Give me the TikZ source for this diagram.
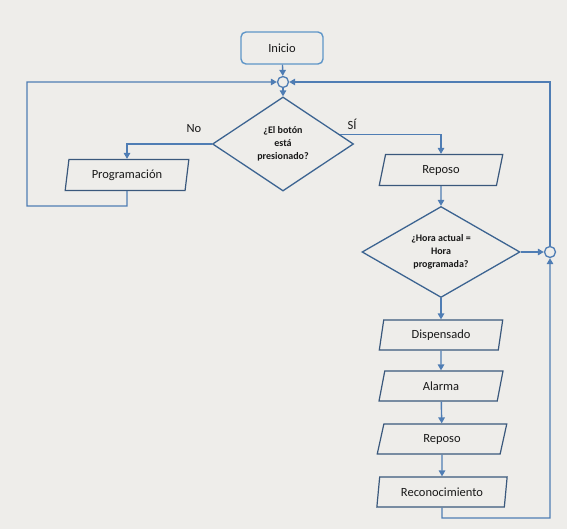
\documentclass[tikz,border=0pt]{standalone}
\usepackage{fontspec}
\setmainfont{Carlito}
\usetikzlibrary{shapes.geometric,arrows.meta,calc}
\definecolor{bg}{RGB}{238,237,234}
\definecolor{conncol}{RGB}{79,125,180}
\definecolor{shapecol}{RGB}{58,88,124}
\definecolor{deccol}{RGB}{60,100,145}
\definecolor{inicol}{RGB}{95,150,200}
\definecolor{txt}{RGB}{25,25,25}
\begin{document}
\begin{tikzpicture}[x=1pt,y=-1pt,
  io/.style={trapezium, trapezium left angle=78, trapezium right angle=102,
    trapezium stretches=true, draw=shapecol, line width=1.2pt,
    minimum width=124pt, minimum height=31pt, inner sep=0pt,
    font=\fontsize{12.5}{14}\selectfont, text=txt},
  dec/.style={diamond, draw=deccol, line width=1.3pt, inner sep=0pt,
    font=\bfseries\fontsize{10}{13}\selectfont, align=center, text=txt},
  startbox/.style={rectangle, rounded corners=5pt, draw=inicol, line width=1.4pt,
    minimum width=82pt, minimum height=32pt, inner sep=0pt,
    font=\fontsize{12.5}{14}\selectfont, text=txt},
  joint/.style={circle, draw=conncol, line width=1.3pt, minimum size=11pt, inner sep=0pt},
  conn/.style={draw=conncol, line width=1.4pt, -{Triangle[length=6pt,width=6.5pt]}},
  lbl/.style={font=\fontsize{12.5}{14}\selectfont, text=txt}
]
\fill[bg] (0,0) rectangle (567,529);
\useasboundingbox (0,0) rectangle (567,529);

\node[startbox] (ini) at (282,48) {Inicio};
\node[joint] (c1) at (283,82) {};
\node[dec, minimum width=141pt, minimum height=94pt, aspect=1.5] (d1) at (283,144)
  {¿El botón\\está\\presionado?};
\node[io] (prog) at (127,175) {Programación};
\node[io] (rep1) at (441,170) {Reposo};
\node[dec, minimum width=158pt, minimum height=91pt, aspect=1.75] (d2) at (441,252)
  {¿Hora actual =\\Hora\\programada?};
\node[joint] (c2) at (550,252) {};
\node[io, minimum height=30pt] (disp) at (441,335) {Dispensado};
\node[io, minimum height=30pt] (alarm) at (441,386) {Alarma};
\node[io, minimum width=130pt, minimum height=30pt] (rep2) at (442,439) {Reposo};
\node[io, minimum width=131pt, minimum height=30pt] (recon) at (442,492) {Reconocimiento};

\node[lbl] (no) at (194,129) {No};
\node[lbl] (si) at (352,124) {SÍ};

\coordinate (l1) at (127,206);
\coordinate (l2) at (27,206);
\coordinate (l3) at (27,82);
\coordinate (r1) at (550,82);
\coordinate (b1) at (442,518);
\coordinate (b2) at (550,518);
\coordinate (s0) at ($(d1.north)!0.8!(d1.east)$);

\draw[conn] (ini) -- (c1);
\draw[conn] (c1) -- (d1);
\draw[conn] (d1.west) -| (prog.north);
\draw[conn] (s0) -| (rep1.north);
\draw[conn] (prog.south) -- (l1) -- (l2) -- (l3) -- (c1.west);
\draw[conn] (rep1) -- (d2);
\draw[conn] (d2.east) -- (c2.west);
\draw[conn] (c2.north) -- (r1) -- (c1.east);
\draw[conn] (d2) -- (disp);
\draw[conn] (disp) -- (alarm);
\draw[conn] (alarm) -- (rep2);
\draw[conn] (rep2) -- (recon);
\draw[conn] (recon.south) -- (b1) -- (b2) -- (c2.south);
\end{tikzpicture}
\end{document}
